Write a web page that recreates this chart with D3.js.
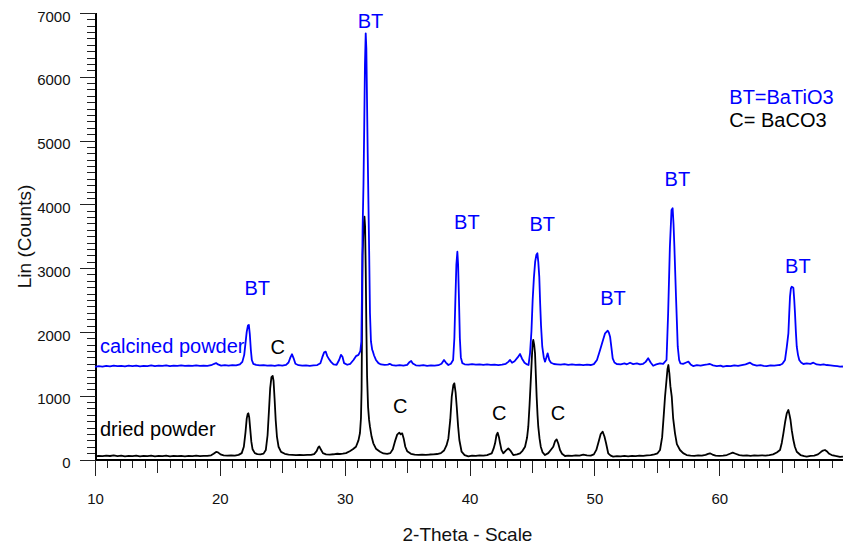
<!DOCTYPE html>
<html>
<head>
<meta charset="utf-8">
<script src="https://cdn.jsdelivr.net/npm/d3@7"></script>
<style>
  html, body { margin: 0; padding: 0; background: #fff; }
  svg { display: block; font-family: "Liberation Sans", Arial, sans-serif; }
</style>
</head>
<body>
<svg id="chart" width="843" height="547"></svg>
<script>
// XRD patterns: [2-theta (deg), intensity (counts)]
const calcined = [
[10.0,1452],[10.3,1462],[10.6,1456],[10.9,1468],[11.2,1460],[11.5,1470],[11.8,1462],[12.1,1466],[12.4,1458],[12.7,1470],
[13.0,1463],[13.3,1472],[13.6,1461],[13.9,1468],[14.2,1464],[14.5,1474],[14.8,1462],[15.1,1470],[15.4,1466],[15.7,1476],
[16.0,1464],[16.3,1471],[16.6,1467],[16.9,1475],[17.2,1466],[17.5,1472],[17.8,1468],[18.1,1476],[18.4,1467],[18.7,1473],
[19.0,1469],[19.3,1478],[19.55,1500],[19.7,1512],[19.85,1490],[20.1,1472],[20.4,1478],[20.7,1470],[21.0,1480],[21.3,1474],
[21.6,1490],[21.8,1530],[21.95,1640],[22.05,1820],[22.15,2000],[22.25,2100],[22.32,2110],[22.4,1960],[22.48,1720],[22.56,1560],
[22.68,1500],[22.9,1482],[23.2,1474],[23.5,1480],[23.8,1470],[24.1,1476],[24.4,1468],[24.7,1478],[25.0,1472],[25.3,1484],
[25.5,1520],[25.65,1600],[25.78,1650],[25.9,1590],[26.05,1500],[26.3,1478],[26.6,1470],[26.9,1476],[27.2,1468],[27.5,1474],
[27.8,1480],[28.05,1510],[28.2,1600],[28.35,1680],[28.48,1690],[28.6,1620],[28.75,1570],[28.9,1530],[29.1,1490],[29.35,1485],
[29.55,1560],[29.7,1640],[29.82,1610],[29.95,1510],[30.2,1485],[30.45,1500],[30.7,1560],[30.9,1620],[31.1,1640],[31.25,1700],
[31.33,1850],[31.38,2600],[31.43,3600],[31.5,4300],[31.56,5200],[31.62,6200],[31.68,6680],[31.73,6450],[31.78,5700],[31.84,4800],
[31.9,4000],[31.96,3200],[32.02,2300],[32.1,1850],[32.2,1720],[32.26,1690],[32.35,1630],[32.5,1560],[32.7,1510],[32.9,1490],
[33.2,1482],[33.45,1488],[33.6,1500],[33.8,1480],[34.1,1472],[34.4,1478],[34.7,1470],[35.0,1484],[35.2,1530],[35.32,1545],
[35.45,1505],[35.7,1476],[36.0,1470],[36.3,1478],[36.6,1468],[36.9,1476],[37.2,1470],[37.5,1478],[37.75,1500],[37.95,1560],
[38.1,1520],[38.3,1481],[38.5,1500],[38.68,1560],[38.78,1900],[38.86,2500],[38.94,3050],[39.02,3257],[39.08,3050],[39.15,2500],
[39.22,1900],[39.3,1600],[39.42,1510],[39.6,1492],[39.9,1486],[40.2,1496],[40.5,1486],[40.8,1492],[41.1,1484],[41.4,1490],
[41.7,1482],[42.0,1488],[42.3,1480],[42.6,1486],[42.9,1500],[43.1,1530],[43.24,1560],[43.4,1517],[43.6,1540],[43.85,1600],
[44.04,1653],[44.2,1580],[44.4,1517],[44.6,1490],[44.72,1481],[44.84,1669],[44.95,2000],[45.05,2500],[45.15,2850],[45.25,3100],
[45.35,3210],[45.43,3232],[45.5,3100],[45.58,2865],[45.65,2450],[45.72,2100],[45.82,1768],[45.94,1600],[46.04,1533],[46.15,1600],
[46.25,1664],[46.38,1560],[46.52,1517],[46.75,1497],[47.0,1492],[47.3,1486],[47.6,1494],[47.9,1484],[48.2,1490],[48.5,1482],
[48.8,1488],[49.1,1480],[49.4,1486],[49.7,1481],[49.95,1495],[50.2,1560],[50.45,1716],[50.65,1850],[50.85,1978],[51.06,2019],
[51.15,1990],[51.25,1925],[51.36,1750],[51.46,1586],[51.6,1520],[51.78,1497],[52.1,1490],[52.4,1506],[52.6,1492],[52.85,1517],
[53.1,1496],[53.4,1505],[53.65,1490],[53.9,1500],[54.1,1530],[54.3,1586],[54.5,1520],[54.7,1470],[54.95,1490],[55.25,1508],
[55.5,1500],[55.77,1560],[55.9,2291],[56.04,3335],[56.17,3910],[56.26,3937],[56.33,3700],[56.4,3335],[56.53,2552],[56.67,1768],
[56.78,1560],[56.88,1508],[57.1,1500],[57.35,1520],[57.52,1533],[57.7,1490],[57.9,1465],[58.2,1478],[58.5,1470],[58.8,1484],
[59.05,1490],[59.25,1497],[59.5,1476],[59.8,1465],[60.1,1472],[60.3,1455],[60.6,1468],[60.9,1462],[61.2,1476],[61.5,1466],
[61.8,1480],[62.1,1490],[62.46,1517],[62.7,1486],[63.0,1470],[63.3,1478],[63.55,1468],[63.79,1465],[64.1,1474],[64.4,1470],
[64.7,1478],[64.86,1481],[65.05,1500],[65.26,1560],[65.4,1760],[65.53,1978],[65.6,2300],[65.66,2552],[65.73,2680],[65.8,2708],
[65.87,2700],[65.93,2690],[66.0,2500],[66.06,2291],[66.13,2000],[66.2,1768],[66.3,1640],[66.4,1560],[66.55,1520],[66.73,1497],
[67.0,1506],[67.3,1500],[67.53,1517],[67.8,1490],[68.1,1484],[68.35,1492],[68.6,1481],[68.9,1474],[69.2,1468],[69.45,1462],
[69.66,1455],[69.9,1458]
];

const dried = [
[10.0,48],[10.3,58],[10.6,52],[10.9,62],[11.2,55],[11.5,64],[11.8,54],[12.1,60],[12.4,50],[12.7,58],
[13.0,52],[13.3,60],[13.6,48],[13.9,56],[14.2,52],[14.5,60],[14.8,50],[15.1,57],[15.4,53],[15.7,61],
[16.0,50],[16.3,56],[16.6,52],[16.9,58],[17.2,50],[17.5,57],[17.8,54],[18.1,60],[18.4,52],[18.7,58],
[19.0,56],[19.3,66],[19.5,90],[19.7,118],[19.85,112],[20.05,80],[20.3,64],[20.6,60],[20.9,66],[21.2,62],
[21.5,72],[21.75,100],[21.92,200],[22.05,420],[22.15,640],[22.23,715],[22.28,724],[22.35,660],[22.43,480],[22.52,280],
[22.62,160],[22.8,100],[23.0,84],[23.25,80],[23.5,92],[23.68,150],[23.82,380],[23.93,760],[24.03,1120],[24.13,1290],
[24.23,1309],[24.3,1230],[24.38,960],[24.47,620],[24.57,360],[24.7,200],[24.9,120],[25.2,90],[25.5,78],[25.8,74],
[26.1,70],[26.4,74],[26.7,70],[27.0,74],[27.3,72],[27.55,84],[27.75,130],[27.88,190],[27.96,206],[28.08,160],
[28.25,100],[28.5,80],[28.8,76],[29.1,82],[29.4,90],[29.6,86],[29.85,92],[30.1,100],[30.4,130],[30.65,160],
[30.9,200],[31.1,300],[31.22,415],[31.3,650],[31.35,1100],[31.39,2200],[31.43,3200],[31.48,3500],[31.53,3700],[31.58,3806],
[31.63,3650],[31.68,3000],[31.73,2100],[31.79,1300],[31.87,820],[31.95,620],[32.02,514],[32.15,360],[32.29,254],[32.5,170],
[32.83,122],[33.1,95],[33.4,88],[33.65,100],[33.85,160],[34.05,300],[34.2,390],[34.37,420],[34.48,395],[34.6,410],
[34.72,330],[34.85,200],[35.0,130],[35.3,90],[35.6,76],[35.9,72],[36.2,76],[36.5,72],[36.8,78],[37.1,80],
[37.4,86],[37.7,100],[37.95,140],[38.15,220],[38.3,330],[38.45,620],[38.57,984],[38.7,1168],[38.78,1194],[38.88,1050],
[38.97,827],[39.08,520],[39.18,305],[39.36,122],[39.6,70],[39.9,50],[40.2,62],[40.5,56],[40.8,66],[41.1,60],
[41.4,70],[41.6,84],[41.77,97],[41.92,170],[42.04,254],[42.15,380],[42.25,420],[42.35,350],[42.44,254],[42.55,150],
[42.7,97],[42.9,140],[43.1,175],[43.3,130],[43.5,70],[43.8,80],[44.04,97],[44.25,140],[44.44,200],[44.6,340],
[44.7,514],[44.8,850],[44.9,1246],[45.0,1650],[45.05,1821],[45.1,1873],[45.17,1800],[45.24,1664],[45.3,1350],[45.37,984],
[45.44,700],[45.5,514],[45.6,330],[45.7,200],[45.85,110],[46.04,70],[46.3,100],[46.5,150],[46.7,200],[46.85,290],
[46.97,316],[47.1,250],[47.24,149],[47.4,90],[47.64,55],[47.9,62],[48.2,58],[48.5,64],[48.8,60],[49.1,75],
[49.4,64],[49.7,60],[49.95,80],[50.15,150],[50.3,254],[50.5,400],[50.66,436],[50.8,360],[50.93,254],[51.1,97],
[51.3,60],[51.5,44],[51.8,52],[52.1,48],[52.4,56],[52.7,50],[53.0,58],[53.3,52],[53.6,60],[53.9,56],
[54.2,64],[54.5,70],[54.8,82],[55.05,97],[55.25,149],[55.42,350],[55.55,700],[55.65,984],[55.77,1246],[55.85,1420],
[55.92,1481],[56.0,1350],[56.08,1150],[56.19,984],[56.3,650],[56.45,410],[56.6,240],[56.85,149],[57.1,100],[57.38,70],
[57.7,62],[58.0,58],[58.3,64],[58.6,60],[58.9,72],[59.1,88],[59.25,97],[59.45,78],[59.7,62],[60.0,58],
[60.3,62],[60.6,70],[60.85,90],[61.07,107],[61.3,90],[61.6,68],[61.9,62],[62.2,66],[62.5,58],[62.8,64],
[63.1,60],[63.4,66],[63.7,62],[64.0,70],[64.3,80],[64.6,110],[64.86,149],[65.0,260],[65.13,410],[65.28,600],
[65.4,724],[65.53,776],[65.62,700],[65.7,619],[65.8,460],[65.93,305],[66.05,200],[66.2,122],[66.5,70],[66.8,52],
[67.0,44],[67.3,56],[67.6,62],[67.9,80],[68.15,120],[68.3,140],[68.46,149],[68.6,130],[68.8,90],[69.0,70],
[69.3,55],[69.66,40],[69.9,45]
];

// Axis ticks
const xMajorTicks = [10, 20, 30, 40, 50, 60];
const yMajorTicks = [0, 1000, 2000, 3000, 4000, 5000, 6000, 7000];

// Phase markers: [label, 2-theta, counts]
const btMarks = [["BT",23.0,2578],["BT",32.06,6757],["BT",39.78,3607],["BT",45.82,3585],["BT",51.49,2420],["BT",56.64,4285],["BT",66.29,2917]];
const cMarks = [["C",24.63,1652],["C",34.45,723],["C",42.38,619],["C",47.08,619]];

// Pattern names: [label, 2-theta, counts]
const patternNames = [["calcined powder",10.4,1673],["dried powder",10.4,368]];
const legendLines = ["BT=BaTiO3", "C= BaCO3"];

const BLUE = "#0000ff";
const svg = d3.select("#chart");

const x = d3.scaleLinear().domain([10, 70]).range([95, 844.2]);
const y = d3.scaleLinear().domain([0, 7000]).range([459.5, 12.9]);

// ---- axes ----
function styleAxis(g) {
  g.select(".domain").attr("stroke", "#000").attr("stroke-width", 1.2);
  g.selectAll(".tick line").attr("stroke", "#222").attr("stroke-width", 1);
  g.attr("shape-rendering", "crispEdges");
}

const xMinor = d3.range(10, 70, 1).filter(v => v % 5 !== 0);
const xMid = d3.range(15, 70, 10);

svg.append("g").attr("transform", "translate(0,459.5)")
  .call(d3.axisBottom(x).tickValues(xMinor).tickSize(8).tickSizeOuter(0).tickFormat(""))
  .call(styleAxis);
svg.append("g").attr("transform", "translate(0,459.5)")
  .call(d3.axisBottom(x).tickValues(xMid).tickSize(13).tickSizeOuter(0).tickFormat(""))
  .call(styleAxis);
const gx = svg.append("g").attr("transform", "translate(0,459.5)")
  .call(d3.axisBottom(x).tickValues(xMajorTicks).tickSize(16).tickSizeOuter(0).tickFormat(d3.format("d")))
  .call(styleAxis);
gx.selectAll(".tick text")
  .attr("y", 33.5).attr("dy", "0.71em")
  .attr("font-size", 15).attr("fill", "#111")
  .attr("font-family", "'Liberation Sans', Arial, sans-serif");

const yMinor = d3.range(0, 7001, 100).filter(v => v % 1000 !== 0);
svg.append("g").attr("transform", "translate(95.5,0)")
  .call(d3.axisLeft(y).tickValues(yMinor).tickSize(9).tickSizeOuter(0).tickFormat(""))
  .call(styleAxis);
const gy = svg.append("g").attr("transform", "translate(95.5,0)")
  .call(d3.axisLeft(y).tickValues(yMajorTicks).tickSize(16).tickSizeOuter(0).tickFormat(d3.format("d")))
  .call(styleAxis);
gy.selectAll(".tick text")
  .attr("x", -25).attr("dy", "0.55em")
  .attr("font-size", 15).attr("fill", "#111")
  .attr("font-family", "'Liberation Sans', Arial, sans-serif");

// axis titles
svg.append("text")
  .attr("transform", "translate(30.5,236.5) rotate(-90)")
  .attr("text-anchor", "middle").attr("font-size", 19).attr("fill", "#111")
  .text("Lin (Counts)");
svg.append("text")
  .attr("x", 467.5).attr("y", 541)
  .attr("text-anchor", "middle").attr("font-size", 19).attr("fill", "#111")
  .text("2-Theta - Scale");

// ---- patterns ----
const line = d3.line().x(d => x(d[0])).y(d => y(d[1]));
svg.append("path").datum(dried)
  .attr("fill", "none").attr("stroke", "#000").attr("stroke-width", 1.8)
  .attr("stroke-linejoin", "round").attr("d", line);
svg.append("path").datum(calcined)
  .attr("fill", "none").attr("stroke", BLUE).attr("stroke-width", 1.8)
  .attr("stroke-linejoin", "round").attr("d", line);

// ---- annotations ----
svg.append("g").selectAll("text").data(btMarks).join("text")
  .attr("x", d => x(d[1])).attr("y", d => y(d[2]))
  .attr("text-anchor", "middle").attr("font-size", 20).attr("fill", BLUE)
  .text(d => d[0]);
svg.append("g").selectAll("text").data(cMarks).join("text")
  .attr("x", d => x(d[1])).attr("y", d => y(d[2]))
  .attr("text-anchor", "middle").attr("font-size", 20).attr("fill", "#000")
  .text(d => d[0]);
svg.append("g").selectAll("text").data(patternNames).join("text")
  .attr("x", d => x(d[1])).attr("y", d => y(d[2]))
  .attr("font-size", 20).attr("fill", (d, i) => i === 0 ? BLUE : "#000")
  .text(d => d[0]);

// phase key
svg.append("g").selectAll("text").data(legendLines).join("text")
  .attr("x", 729.3).attr("y", (d, i) => 104.3 + i * 23)
  .attr("font-size", 20).attr("fill", (d, i) => i === 0 ? BLUE : "#000")
  .text(d => d);
</script>
</body>
</html>
